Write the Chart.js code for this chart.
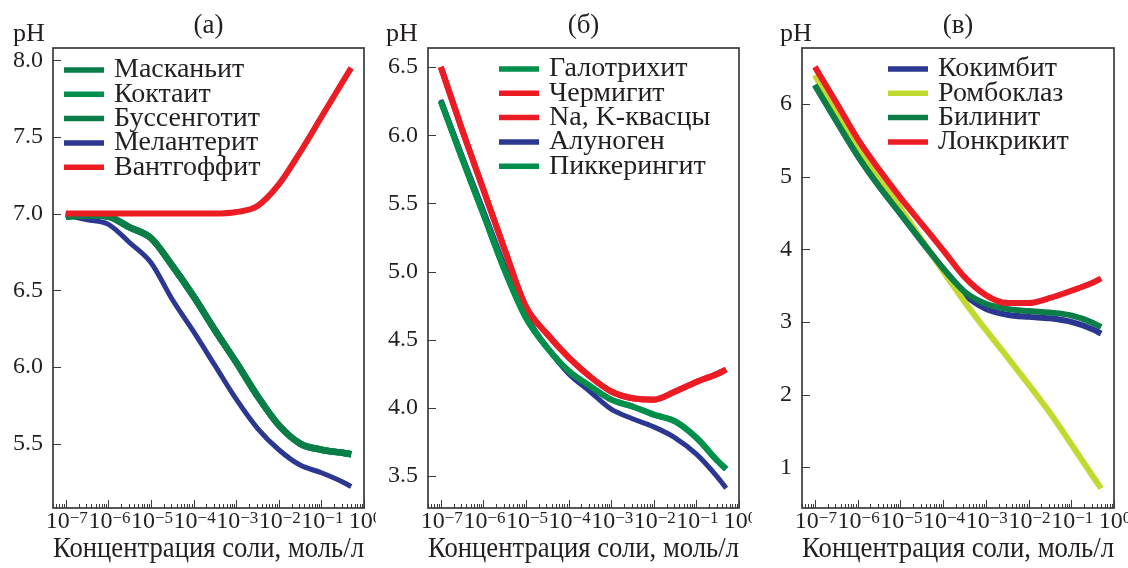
<!DOCTYPE html>
<html lang="ru">
<head>
<meta charset="utf-8">
<title>pH — концентрация соли</title>
<script src="https://cdn.jsdelivr.net/npm/chart.js@4.4.1/dist/chart.umd.min.js"></script>
<style>
  html, body { margin: 0; padding: 0; background: #fff; }
  .row { display: flex; width: 1128px; height: 568px; }
  .panel { width: 376px; height: 568px; }
  canvas { display: block; }
</style>
</head>
<body>
<div class="row">
  <div class="panel"><canvas id="chartA" width="376" height="568"></canvas></div>
  <div class="panel"><canvas id="chartB" width="376" height="568"></canvas></div>
  <div class="panel"><canvas id="chartC" width="376" height="568"></canvas></div>
</div>
<script>
// Salt concentration, mol/l (read at half-decade steps, last point ~0.5)
const concentration = [1e-7, 3.16e-7, 1e-6, 3.16e-6, 1e-5, 3.16e-5, 1e-4, 3.16e-4, 1e-3, 3.16e-3, 1e-2, 3.16e-2, 0.1, 0.316, 0.5];

const xTickValues = [1e-7, 1e-6, 1e-5, 1e-4, 1e-3, 1e-2, 1e-1, 1];
const xTickExponents = ['−7', '−6', '−5', '−4', '−3', '−2', '−1', '0'];

// (а)
const phMaskanite   = [6.98, 6.99, 6.98, 6.91, 6.84, 6.66, 6.46, 6.24, 6.03, 5.81, 5.62, 5.50, 5.46, 5.44, 5.43];
const phKoktaite    = phMaskanite;
const phBoussingaultite = phMaskanite;
const phMelanterite = [6.99, 6.96, 6.93, 6.81, 6.68, 6.44, 6.23, 6.01, 5.79, 5.60, 5.46, 5.36, 5.31, 5.25, 5.22];
const phVanthoffite = [7.00, 7.00, 7.00, 7.00, 7.00, 7.00, 7.00, 7.00, 7.01, 7.05, 7.19, 7.40, 7.63, 7.86, 7.95];
const yTicksA = [5.5, 6.0, 6.5, 7.0, 7.5, 8.0];

// (б)
const phHalotrichite = [6.25, 5.83, 5.42, 5.01, 4.66, 4.44, 4.27, 4.16, 4.06, 4.01, 3.95, 3.90, 3.78, 3.61, 3.55];
const phTschermigite = [6.50, 6.04, 5.60, 5.16, 4.74, 4.54, 4.37, 4.23, 4.12, 4.07, 4.06, 4.12, 4.19, 4.25, 4.28];
const phAlums        = phTschermigite;
const phAlunogen     = [6.26, 5.85, 5.45, 5.04, 4.68, 4.44, 4.25, 4.12, 3.99, 3.92, 3.86, 3.78, 3.66, 3.49, 3.41];
const phPickeringite = phHalotrichite;
const yTicksB = [3.5, 4.0, 4.5, 5.0, 5.5, 6.0, 6.5];

// (в)
const phCoquimbite    = [6.26, 5.77, 5.29, 4.87, 4.49, 4.11, 3.73, 3.38, 3.18, 3.10, 3.07, 3.05, 3.00, 2.90, 2.84];
const phRhomboclase   = [6.40, 5.89, 5.40, 4.97, 4.57, 4.13, 3.70, 3.28, 2.89, 2.52, 2.14, 1.75, 1.32, 0.88, 0.71];
const phBilinite      = [6.26, 5.77, 5.29, 4.87, 4.49, 4.11, 3.74, 3.42, 3.25, 3.18, 3.15, 3.13, 3.09, 2.99, 2.93];
const phLonecreekite  = [6.51, 6.02, 5.52, 5.10, 4.71, 4.35, 3.99, 3.62, 3.37, 3.26, 3.26, 3.33, 3.43, 3.54, 3.60];
const yTicksC = [1, 2, 3, 4, 5, 6];

const colors = {
    red: '#ec1c24',
    green: '#00904c',
    greenDark: '#0a7e46',
    blue: '#2b3790',
    lime: '#c2d92f',
    text: '#231f20',
    frame: '#3a3a3a'
};

const FONT = '"Liberation Serif", "Times New Roman", serif';

// frame, inward ticks, decade labels, panel letter, "pH" and the legend inside the plot
const panelDecor = {
    id: 'panelDecor',
    afterDraw(chart, args, opts) {
        const { ctx, chartArea: area, scales: { x, y } } = chart;
        ctx.save();

        ctx.strokeStyle = colors.frame;
        ctx.lineWidth = 1.7;
        ctx.strokeRect(area.left, area.top, area.right - area.left, area.bottom - area.top);

        ctx.lineWidth = 1;
        for (let p = -8; p <= 0; p++) {
            for (let m = 1; m <= 9; m++) {
                const v = m * Math.pow(10, p);
                if (v < x.min || v > x.max) continue;
                const px = Math.round(x.getPixelForValue(v)) + 0.5;
                ctx.beginPath();
                ctx.moveTo(px, area.bottom);
                ctx.lineTo(px, area.bottom - (m === 1 ? 8 : 4));
                ctx.stroke();
            }
        }
        y.ticks.forEach(t => {
            const py = Math.round(y.getPixelForValue(t.value)) + 0.5;
            ctx.beginPath();
            ctx.moveTo(area.left, py);
            ctx.lineTo(area.left + 8, py);
            ctx.stroke();
        });

        // decade labels: "10" with a raised exponent
        ctx.fillStyle = colors.text;
        ctx.textAlign = 'left';
        ctx.textBaseline = 'alphabetic';
        xTickValues.forEach((v, i) => {
            const px = x.getPixelForValue(v);
            ctx.font = '24px ' + FONT;
            const wBase = ctx.measureText('10').width;
            ctx.font = '17px ' + FONT;
            const wExp = ctx.measureText(xTickExponents[i]).width;
            const left = px - (wBase + wExp) / 2 + 1;
            ctx.font = '24px ' + FONT;
            ctx.fillText('10', left, 528);
            ctx.font = '17px ' + FONT;
            ctx.fillText(xTickExponents[i], left + wBase, 523);
        });

        ctx.font = '27px ' + FONT;
        ctx.textAlign = 'center';
        ctx.fillText(opts.title, (area.left + area.right) / 2, 33);

        ctx.font = '26px ' + FONT;
        ctx.textAlign = 'left';
        ctx.fillText('pH', opts.phX, 41);

        // legend
        ctx.font = '28px ' + FONT;
        ctx.textBaseline = 'middle';
        chart.data.datasets.forEach((ds, i) => {
            const ly = opts.legendY + i * 24.3;
            ctx.strokeStyle = ds.borderColor;
            ctx.lineWidth = 5.5;
            ctx.beginPath();
            ctx.moveTo(opts.legendX, ly);
            ctx.lineTo(opts.legendX + 40, ly);
            ctx.stroke();
            ctx.fillText(ds.label, opts.legendX + 50, ly);
        });

        ctx.restore();
    }
};

function makeChart(canvasId, panel) {
    const datasets = panel.series.map(s => ({
        label: s.label,
        data: s.values.map((v, i) => ({ x: concentration[i], y: v })),
        borderColor: s.color,
        borderWidth: s.width || 6,
        pointRadius: 0,
        cubicInterpolationMode: 'monotone',
        fill: false,
        order: s.order || 1
    }));

    return new Chart(document.getElementById(canvasId), {
        type: 'line',
        data: { datasets },
        options: {
            responsive: false,
            animation: false,
            layout: { padding: { top: 48, right: panel.padRight, bottom: 0, left: 0 } },
            plugins: {
                legend: { display: false },
                tooltip: { enabled: false },
                panelDecor: panel.decor
            },
            scales: {
                x: {
                    type: 'logarithmic',
                    min: 5e-8,
                    max: 1,
                    grid: { display: false, drawTicks: false },
                    border: { display: false },
                    afterBuildTicks: scale => {
                        scale.ticks = xTickValues.map(v => ({ value: v }));
                    },
                    afterFit: scale => {
                        scale.height = 60;
                        scale.paddingLeft = 0;
                        scale.paddingRight = 0;
                    },
                    ticks: { display: false, autoSkip: false, maxRotation: 0 },
                    title: {
                        display: true,
                        text: 'Концентрация соли, моль/л',
                        color: colors.text,
                        font: { family: FONT, size: 29.5 },
                        padding: { top: 0, bottom: 1 }
                    }
                },
                y: {
                    min: panel.yMin,
                    max: panel.yMax,
                    grid: { display: false, drawTicks: false },
                    border: { display: false },
                    afterBuildTicks: scale => {
                        scale.ticks = panel.yTicks.map(v => ({ value: v }));
                    },
                    afterFit: scale => {
                        scale.width = panel.axisLeft;
                    },
                    ticks: {
                        padding: 10,
                        color: colors.text,
                        font: { family: FONT, size: 24 },
                        callback: value => value.toFixed(panel.decimals)
                    }
                }
            }
        },
        plugins: [panelDecor]
    });
}

makeChart('chartA', {
    axisLeft: 53, padRight: 12, yMin: 5.08, yMax: 8.08, yTicks: yTicksA, decimals: 1,
    decor: { title: '(а)', phX: 13, legendX: 64, legendY: 70 },
    series: [
        { label: 'Масканьит', values: phMaskanite, color: colors.greenDark, width: 6.5 },
        { label: 'Коктаит', values: phKoktaite, color: colors.green, width: 6.5 },
        { label: 'Буссенготит', values: phBoussingaultite, color: colors.greenDark, width: 6.5 },
        { label: 'Мелантерит', values: phMelanterite, color: colors.blue, width: 5 },
        { label: 'Вантгоффит', values: phVanthoffite, color: colors.red, width: 6, order: -1 }
    ]
});

makeChart('chartB', {
    axisLeft: 52, padRight: 13, yMin: 3.265, yMax: 6.64, yTicks: yTicksB, decimals: 1,
    decor: { title: '(б)', phX: 10, legendX: 123, legendY: 69 },
    series: [
        { label: 'Галотрихит', values: phHalotrichite, color: colors.green, width: 6 },
        { label: 'Чермигит', values: phTschermigite, color: colors.red, width: 6 },
        { label: 'Na, K-квасцы', values: phAlums, color: colors.red, width: 6 },
        { label: 'Алуноген', values: phAlunogen, color: colors.blue, width: 5 },
        { label: 'Пиккерингит', values: phPickeringite, color: colors.green, width: 6 }
    ]
});

makeChart('chartC', {
    axisLeft: 50, padRight: 14, yMin: 0.44, yMax: 6.77, yTicks: yTicksC, decimals: 0,
    decor: { title: '(в)', phX: 28, legendX: 136, legendY: 69 },
    series: [
        { label: 'Кокимбит', values: phCoquimbite, color: colors.blue, width: 6, order: 4 },
        { label: 'Ромбоклаз', values: phRhomboclase, color: colors.lime, width: 6, order: 3 },
        { label: 'Билинит', values: phBilinite, color: colors.greenDark, width: 6, order: 2 },
        { label: 'Лонкрикит', values: phLonecreekite, color: colors.red, width: 6, order: 1 }
    ]
});
</script>
</body>
</html>
